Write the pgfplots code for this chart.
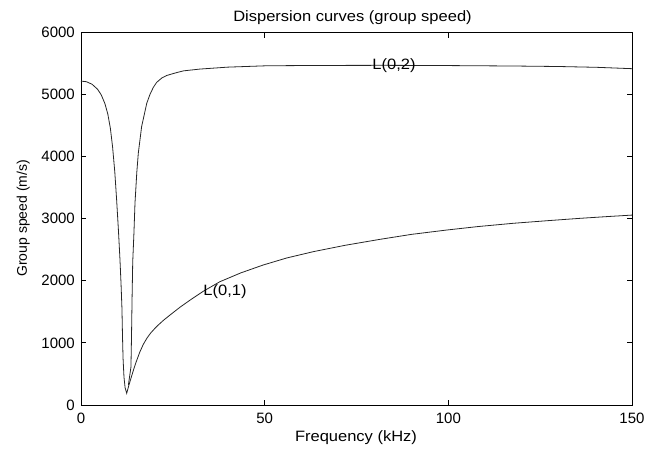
\documentclass[border=0pt]{standalone}
\usepackage{pgfplots}
\pgfplotsset{compat=1.18}
\usepackage{fontspec}
\setmainfont{Liberation Sans}
\newfontfamily\widefont{Liberation Sans}[FakeStretch=1.1]
\begin{document}
\fontsize{15}{18}\selectfont
\begin{tikzpicture}
\begin{axis}[
  at={(0pt,0pt)}, anchor=south west,
  scale only axis, width=551pt, height=373pt,
  xmin=0, xmax=150, ymin=0, ymax=6000,
  xtick={0,50,100,150}, ytick={0,1000,2000,3000,4000,5000,6000},
  scaled ticks=false,
  /pgf/number format/1000 sep={},
  /pgf/number format/assume math mode=true,
  tick align=inside, tick pos=both,
  major tick length=5.5pt,
  tick style={black, line width=0.7pt},
  axis line style={black, line width=0.7pt},
  ticklabel style={font=\fontsize{15}{18}\selectfont},
  xticklabel style={anchor=base, yshift=-18.3pt},
  yticklabel style={anchor=east, xshift=-1pt},
]
\addplot[black!85, line width=0.8pt] coordinates {
(0,5210)(1.5,5200)(3,5160)(4.5,5080)(5.5,4990)(6.5,4850)(7.3,4680)(8.0,4450)
(8.6,4150)(9.2,3750)(9.7,3300)(10.2,2800)(10.6,2350)(10.9,1950)(11.15,1550)
(11.3,1100)(11.45,750)(11.7,450)(12.0,280)(12.44,188)
(13.0,310)(13.6,430)(14.3,565)(15.0,690)(16.0,850)(17.0,980)(18.0,1080)
(19.0,1160)(20.0,1225)(21,1285)(22.5,1365)(24.5,1460)(27,1575)(30,1700)
(33.3,1830)(37.8,1983)
(43.5,2125)(49.6,2252)(56,2365)(63.2,2466)(72,2570)(81.4,2665)(90,2745)(99.6,2815)
(108,2870)(117.7,2923)(127,2965)(135.9,3003)(143,3030)(150,3055)
};
\addplot[black!85, line width=0.8pt] coordinates {
(12.9,322)(13.6,611)(13.75,1100)(13.9,1700)(14.08,2300)(14.4,2750)(14.7,3250)
(15.2,3750)(15.6,4049)(16.5,4477)(17.9,4853)(18.8,5000)(19.7,5110)(20.6,5190)
(22,5260)(23.3,5300)(25.6,5340)(27.9,5375)(32.4,5404)(40,5435)(50.6,5457)
(65,5462)(82.3,5464)(100,5460)(117.7,5453)(130,5445)(140.4,5432)(150,5410)
};
\node[black, font=\widefont\fontsize{15}{18}\selectfont] at (axis cs:39.2,1818) {L(0,1)};
\node[black, font=\widefont\fontsize{15}{18}\selectfont] at (axis cs:85.2,5453) {L(0,2)};
\end{axis}
\node[anchor=base, inner sep=0pt, font=\widefont\fontsize{15}{18}\selectfont] at (271.5pt,383.5pt) {Dispersion curves (group speed)};
\node[anchor=base, inner sep=0pt, font=\widefont\fontsize{15}{18}\selectfont] at (275pt,-36.5pt) {Frequency (kHz)};
\node[anchor=base, inner sep=0pt, rotate=90, font=\fontsize{14}{17}\selectfont] at (-54pt,186.7pt) {Group speed (m/s)};
\pgfresetboundingbox
\path[use as bounding box] (-81pt,-43pt) rectangle (565pt,405pt);
\end{tikzpicture}
\end{document}
